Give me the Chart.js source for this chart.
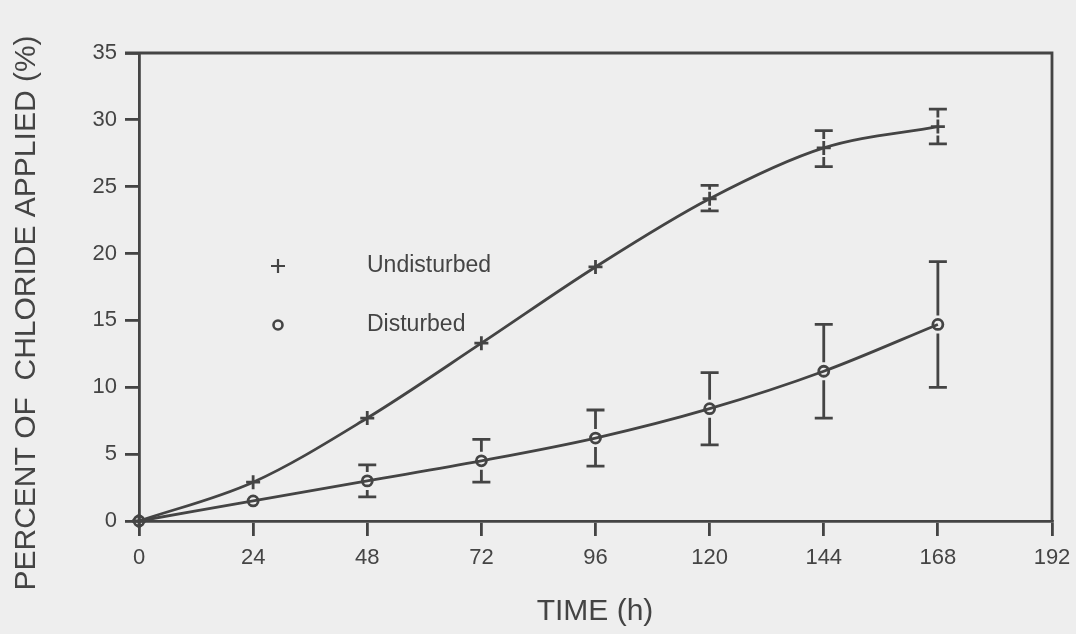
<!DOCTYPE html>
<html>
<head>
<meta charset="utf-8">
<script src="https://cdn.jsdelivr.net/npm/chart.js@4/dist/chart.umd.min.js"></script>
<style>
  html, body { margin: 0; padding: 0; background: #eeeeee; }
  #wrap { width: 1076px; height: 634px; }
</style>
</head>
<body>
<div id="wrap"><canvas id="c" width="1076" height="634"></canvas></div>
<script>
// ---- data ----
const hours = [0, 24, 48, 72, 96, 120, 144, 168];
const undisturbed = [0, 2.9, 7.7, 13.3, 19.0, 24.1, 27.9, 29.5];
const undisturbedLow = [null, null, null, null, null, 23.2, 26.5, 28.2];
const undisturbedHigh = [null, null, null, null, null, 25.1, 29.2, 30.8];
const disturbed = [0, 1.5, 3.0, 4.5, 6.2, 8.4, 11.2, 14.7];
const disturbedLow = [null, null, 1.8, 2.9, 4.1, 5.7, 7.7, 10.0];
const disturbedHigh = [null, null, 4.2, 6.1, 8.3, 11.1, 14.7, 19.4];
const xTickValues = [0, 24, 48, 72, 96, 120, 144, 168, 192];
const yTickValues = [0, 5, 10, 15, 20, 25, 30, 35];
const seriesLabels = ['Undisturbed', 'Disturbed'];
const xTitle = 'TIME (h)';
const yTitle = 'PERCENT OF  CHLORIDE APPLIED (%)';

const INK = '#444444';
const BG = '#eeeeee';
const FONT = '"Liberation Sans", Arial, Helvetica, sans-serif';
const LW = 2.8;

const bgPlugin = {
  id: 'bg',
  beforeDraw(chart) {
    const ctx = chart.ctx;
    ctx.save();
    ctx.fillStyle = BG;
    ctx.fillRect(0, 0, chart.width, chart.height);
    ctx.restore();
  }
};

const framePlugin = {
  id: 'frame',
  afterDraw(chart) {
    const ctx = chart.ctx;
    const xs = chart.scales.x, ys = chart.scales.y;
    const top = ys.getPixelForValue(35);
    const right = xs.getPixelForValue(192);
    const bottom = ys.getPixelForValue(0);
    ctx.save();
    ctx.strokeStyle = INK;
    ctx.lineWidth = LW;
    ctx.beginPath();
    ctx.moveTo(chart.chartArea.left - 14, top);
    ctx.lineTo(right, top);
    ctx.lineTo(right, bottom);
    ctx.stroke();
    ctx.restore();
  }
};

const errorPlugin = {
  id: 'errbars',
  afterDatasetsDraw(chart) {
    const ctx = chart.ctx;
    const xs = chart.scales.x, ys = chart.scales.y;
    const sets = [
      { mid: undisturbed, lo: undisturbedLow, hi: undisturbedHigh, gap: 9 },
      { mid: disturbed, lo: disturbedLow, hi: disturbedHigh, gap: 9 }
    ];
    ctx.save();
    ctx.strokeStyle = INK;
    ctx.lineWidth = LW;
    sets.forEach(s => {
      hours.forEach((h, i) => {
        if (s.lo[i] == null || s.hi[i] == null) return;
        const x = xs.getPixelForValue(h);
        const yc = ys.getPixelForValue(s.mid[i]);
        const yl = ys.getPixelForValue(s.lo[i]);
        const yh = ys.getPixelForValue(s.hi[i]);
        const hw = 9;
        ctx.beginPath();
        if (yc - s.gap > yh) { ctx.moveTo(x, yh); ctx.lineTo(x, yc - s.gap); }
        if (yc + s.gap < yl) { ctx.moveTo(x, yc + s.gap); ctx.lineTo(x, yl); }
        ctx.moveTo(x - hw, yh); ctx.lineTo(x + hw, yh);
        ctx.moveTo(x - hw, yl); ctx.lineTo(x + hw, yl);
        ctx.stroke();
      });
    });
    ctx.restore();
  }
};

const textPlugin = {
  id: 'texts',
  afterDraw(chart) {
    const ctx = chart.ctx;
    const a = chart.chartArea;
    ctx.save();
    ctx.fillStyle = INK;
    ctx.strokeStyle = INK;
    // axis titles
    ctx.font = '30px ' + FONT;
    ctx.textAlign = 'center';
    ctx.textBaseline = 'middle';
    ctx.fillText(xTitle, 595, 612);
    ctx.save();
    ctx.translate(27, 313);
    ctx.rotate(-Math.PI / 2);
    ctx.fillText(yTitle, 0, 0);
    ctx.restore();
    // legend
    const mx = a.left + 139;
    const tx = a.left + 228;
    const y1 = a.top + 213;
    const y2 = a.top + 272;
    ctx.lineWidth = 2.2;
    ctx.beginPath();
    ctx.moveTo(mx - 7, y1); ctx.lineTo(mx + 7, y1);
    ctx.moveTo(mx, y1 - 7); ctx.lineTo(mx, y1 + 7);
    ctx.stroke();
    ctx.lineWidth = 2.6;
    ctx.beginPath();
    ctx.arc(mx, y2, 4.5, 0, Math.PI * 2);
    ctx.stroke();
    ctx.font = '23px ' + FONT;
    ctx.textAlign = 'left';
    ctx.fillText(seriesLabels[0], tx, y1);
    ctx.fillText(seriesLabels[1], tx, y2);
    ctx.restore();
  }
};

new Chart(document.getElementById('c'), {
  type: 'line',
  data: {
    datasets: [
      {
        label: seriesLabels[0],
        data: hours.map((h, i) => ({ x: h, y: undisturbed[i] })),
        borderColor: INK,
        borderWidth: LW,
        pointStyle: 'cross',
        pointRadius: 7,
        pointBorderWidth: LW,
        pointBorderColor: INK,
        pointBackgroundColor: 'transparent',
        cubicInterpolationMode: 'monotone',
        clip: false,
        fill: false
      },
      {
        label: seriesLabels[1],
        data: hours.map((h, i) => ({ x: h, y: disturbed[i] })),
        borderColor: INK,
        borderWidth: LW,
        pointStyle: 'circle',
        pointRadius: 5,
        pointBorderWidth: LW,
        pointBorderColor: INK,
        pointBackgroundColor: 'transparent',
        cubicInterpolationMode: 'monotone',
        clip: false,
        fill: false
      }
    ]
  },
  options: {
    responsive: false,
    animation: false,
    events: [],
    layout: { padding: { left: 0, top: 53, right: 24, bottom: 0 } },
    plugins: { legend: { display: false }, tooltip: { enabled: false } },
    scales: {
      x: {
        type: 'linear',
        min: 0, max: 192,
        afterBuildTicks(s) { s.ticks = xTickValues.map(v => ({ value: v })); },
        afterFit(s) { s.height = 113; s.paddingLeft = 0; s.paddingRight = 0; },
        grid: { drawOnChartArea: false, drawTicks: true, tickLength: 15, color: INK, lineWidth: LW },
        border: { display: true, color: INK, width: LW },
        ticks: { color: INK, font: { family: FONT, size: 22 }, padding: 9, maxRotation: 0, autoSkip: false }
      },
      y: {
        type: 'linear',
        min: 0, max: 35,
        afterBuildTicks(s) { s.ticks = yTickValues.map(v => ({ value: v })); },
        afterFit(s) { s.width = 139; s.paddingTop = 0; s.paddingBottom = 0; },
        grid: { drawOnChartArea: false, drawTicks: true, tickLength: 14, color: INK, lineWidth: LW },
        border: { display: true, color: INK, width: LW },
        ticks: { color: INK, font: { family: FONT, size: 22 }, padding: 8, autoSkip: false }
      }
    }
  },
  plugins: [bgPlugin, errorPlugin, framePlugin, textPlugin]
});
</script>
</body>
</html>
